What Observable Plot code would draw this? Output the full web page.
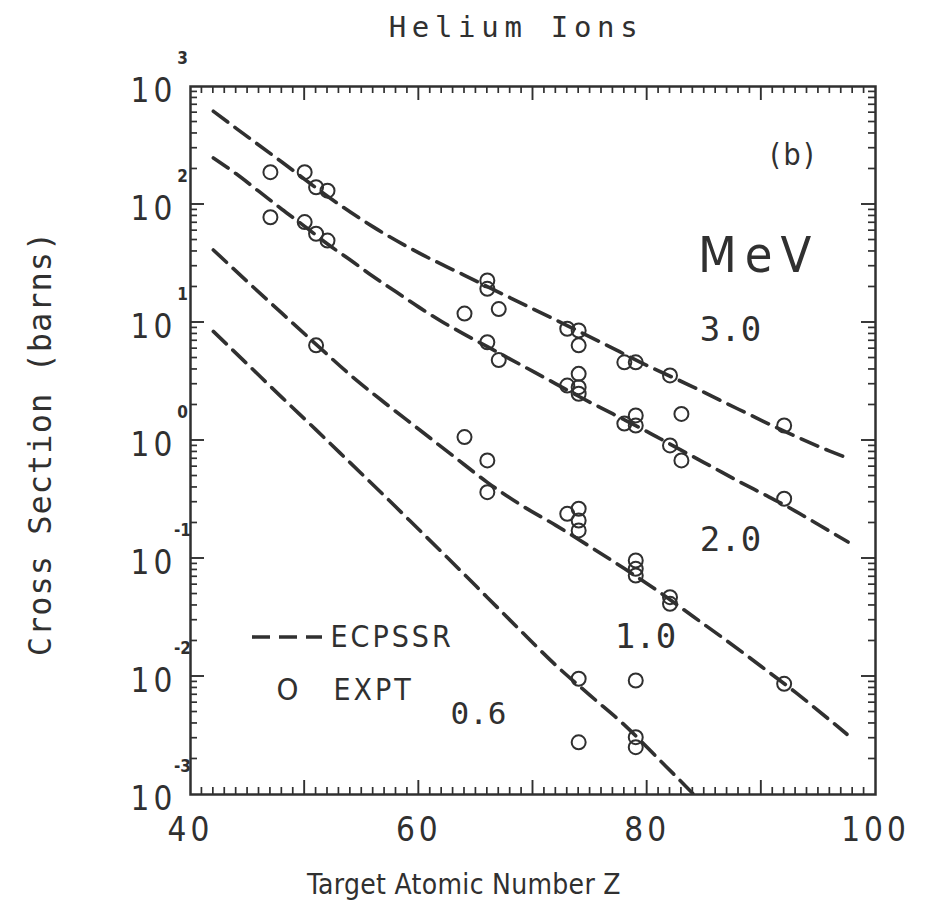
<!DOCTYPE html>
<html>
<head>
<meta charset="utf-8">
<script src="https://cdn.jsdelivr.net/npm/d3@7"></script>
<script src="https://cdn.jsdelivr.net/npm/@observablehq/plot@0.6"></script>
<style>
  html, body { margin: 0; padding: 0; background: #fff; }
</style>
</head>
<body>
<div id="chart"></div>
<script>
// ECPSSR theory curves: target atomic number Z and cross section (barns) per He-ion energy
const energies = ["3.0", "2.0", "1.0", "0.6"];

const theoryZ30 = [42, 44, 48, 52, 56, 60, 64, 68, 72, 76, 80, 84, 88, 92, 96, 97.7];
const theorySigma30 = [617, 442, 229, 117.5, 64.6, 38.9, 25.1, 16.2, 10.5, 6.76, 4.32, 2.85, 1.84, 1.20, 0.813, 0.70];

const theoryZ20 = [42, 44, 46, 48, 50, 52, 54, 56, 58, 60, 62, 64, 66, 68, 70, 72, 74, 76, 78, 80, 82, 84, 86, 88, 90, 92, 94, 96, 97.6];
const theorySigma20 = [248, 182, 129, 91.2, 65.3, 46.2, 33.9, 24.5, 18.2, 13.5, 10.2, 7.94, 6.24, 4.90, 3.85, 3.02, 2.37, 1.88, 1.50, 1.19, 0.933, 0.733, 0.575, 0.452, 0.359, 0.285, 0.221, 0.170, 0.138];

const theoryZ10 = [42, 45, 48, 51, 54, 57, 60, 63, 66, 69, 72, 75, 78, 81, 84, 87, 90, 93, 96, 97.5];
const theorySigma10 = [41.2, 22.1, 12.0, 6.53, 3.59, 2.09, 1.245, 0.741, 0.442, 0.282, 0.191, 0.126, 0.0822, 0.0525, 0.0324, 0.0200, 0.01216, 0.00733, 0.00427, 0.00324];

const theoryZ06 = [42, 45, 48, 51, 54, 57, 60, 63, 66, 69, 72, 75, 78, 81, 84, 85];
const theorySigma06 = [8.41, 4.42, 2.32, 1.23, 0.646, 0.339, 0.176, 0.0912, 0.0468, 0.0240, 0.01245, 0.00692, 0.00389, 0.00200, 0.00102, 0.00081];

// Measured cross sections (EXPT)
const exptZ30 = [47, 50, 51, 52, 66, 66, 67, 73, 74, 74, 78, 79, 82, 92];
const exptSigma30 = [188, 188, 140, 131, 22.7, 19.3, 13.0, 8.85, 8.55, 6.4, 4.6, 4.6, 3.56, 1.34];

const exptZ20 = [47, 50, 51, 52, 64, 66, 67, 73, 74, 74, 74, 78, 79, 79, 83, 82, 83, 92];
const exptSigma20 = [78, 71, 56.5, 49.5, 11.9, 6.8, 4.8, 2.92, 3.67, 2.83, 2.49, 1.39, 1.63, 1.34, 1.68, 0.908, 0.678, 0.321];

const exptZ10 = [51, 64, 66, 66, 73, 74, 74, 74, 79, 79, 79, 82, 82, 92];
const exptSigma10 = [6.4, 1.07, 0.678, 0.365, 0.239, 0.264, 0.210, 0.173, 0.0962, 0.0818, 0.0718, 0.047, 0.0413, 0.00867];

const exptZ06 = [74, 79, 74, 79, 79];
const exptSigma06 = [0.00957, 0.00925, 0.00277, 0.00306, 0.00252];

// Axis tick labels
const xTickLabels = [40, 60, 80, 100];
const yDecadeExponents = [-3, -2, -1, 0, 1, 2, 3];

// Legend entries and panel texts
const legendLabels = ["ECPSSR", "EXPT"];
const legendSymbol = "O";
const panelTag = "(b)";
const unitLabel = "MeV";
const titleText = "Helium Ions";
const xLabelText = "Target Atomic Number Z";
const yLabelText = "Cross Section (barns)";

// ---- build tables for the marks ----
const zipSeries = (energy, zs, ss) => zs.map((z, i) => ({energy, z, sigma: ss[i]}));
const theory = [
  ...zipSeries(energies[0], theoryZ30, theorySigma30),
  ...zipSeries(energies[1], theoryZ20, theorySigma20),
  ...zipSeries(energies[2], theoryZ10, theorySigma10),
  ...zipSeries(energies[3], theoryZ06, theorySigma06)
];
const expt = [
  ...zipSeries(energies[0], exptZ30, exptSigma30),
  ...zipSeries(energies[1], exptZ20, exptSigma20),
  ...zipSeries(energies[2], exptZ10, exptSigma10),
  ...zipSeries(energies[3], exptZ06, exptSigma06)
];

// tick positions: every unit of Z (long every ten), log minor ticks 2..9 per decade
const xMinor = d3.range(41, 100).filter(z => z % 10 !== 0);
const xMajor = d3.range(50, 100, 10);
const yMinor = [];
for (let e = -3; e < 3; e++) for (let k = 2; k <= 9; k++) yMinor.push(k * 10 ** e);
const yMajor = d3.range(-2, 3).map(e => 10 ** e);

// ---- layout & style ----
const W = 926, H = 915;
const mL = 190, mR = 51, mT = 86, mB = 121;
const ink = "#303030";
const font = '"DejaVu Sans Condensed", "DejaVu Sans", sans-serif';
const mono = '"DejaVu Sans Mono", monospace';
const dash = "18,9";

// letter spacing per label text (applied after rendering)
const spacing = new Map([
  [titleText, 5.7], [yLabelText, 1], [xLabelText, 0.3],
  ["10", 4], ["40", 4], ["60", 4], ["80", 4], ["100", 4],
  [unitLabel, 8], [panelTag, 3], [legendLabels[0], 3], [legendLabels[1], 3]
]);

// inward-pointing ticks on all four sides of the frame, placed with the plot's scales
function innerTicks(index, {x, y}, values, dims) {
  const top = dims.marginTop, bottom = dims.height - dims.marginBottom;
  const left = dims.marginLeft, right = dims.width - dims.marginRight;
  const g = d3.create("svg:g").attr("stroke", ink).attr("fill", "none");
  const vTick = (z, len, w) => {
    const px = x(z);
    g.append("line").attr("x1", px).attr("x2", px).attr("y1", bottom).attr("y2", bottom - len).attr("stroke-width", w);
    g.append("line").attr("x1", px).attr("x2", px).attr("y1", top).attr("y2", top + len).attr("stroke-width", w);
  };
  const hTick = (v, len, w) => {
    const py = y(v);
    g.append("line").attr("y1", py).attr("y2", py).attr("x1", left).attr("x2", left + len).attr("stroke-width", w);
    g.append("line").attr("y1", py).attr("y2", py).attr("x1", right).attr("x2", right - len).attr("stroke-width", w);
  };
  xMinor.forEach(z => vTick(z, 7, 1.7));
  xMajor.forEach(z => vTick(z, 14, 1.9));
  yMinor.forEach(v => hTick(v, 7, 1.7));
  yMajor.forEach(v => hTick(v, 14, 1.9));
  return g.node();
}

// legend sample: short dashed segment drawn in frame pixel space
function legendDash(index, scales, values, dims) {
  const g = d3.create("svg:g");
  const x0 = dims.marginLeft + 62, y0 = dims.marginTop + 551;
  g.append("line")
    .attr("x1", x0).attr("x2", x0 + 70)
    .attr("y1", y0).attr("y2", y0)
    .attr("stroke", ink).attr("stroke-width", 3.6)
    .attr("stroke-dasharray", dash);
  return g.node();
}

const note = (txt, dx, dy, size, extra = {}) =>
  Plot.text([txt], {
    frameAnchor: "top-left", dx, dy, text: d => d,
    textAnchor: "middle", lineAnchor: "middle", fontSize: size, fill: ink, ...extra
  });

const chart = Plot.plot({
  width: W,
  height: H,
  marginLeft: mL,
  marginRight: mR,
  marginTop: mT,
  marginBottom: mB,
  style: {fontFamily: font, background: "#fff", color: ink, overflow: "visible"},
  x: {domain: [40, 100], axis: null},
  y: {type: "log", domain: [1e-3, 1e3], axis: null},
  marks: [
    Plot.frame({stroke: ink, strokeWidth: 2.5}),
    innerTicks,

    // ECPSSR curves
    Plot.line(theory, {
      x: "z", y: "sigma", z: "energy", curve: "monotone-x",
      stroke: ink, strokeWidth: 3.6, strokeDasharray: dash, clip: true
    }),
    // measurements
    Plot.dot(expt, {x: "z", y: "sigma", r: 7, stroke: ink, strokeWidth: 2, fill: "none"}),

    // x tick labels
    Plot.text(xTickLabels, {
      x: d => d, frameAnchor: "bottom", dy: 36, text: d => String(d),
      textAnchor: "middle", lineAnchor: "middle", fontSize: 33, fill: ink
    }),
    // y tick labels: "10" with a raised exponent
    Plot.text(yDecadeExponents, {
      y: d => 10 ** d, frameAnchor: "left", dx: -37, dy: 5, text: () => "10",
      textAnchor: "middle", lineAnchor: "middle", fontSize: 33, fill: ink
    }),
    Plot.text(yDecadeExponents, {
      y: d => 10 ** d, frameAnchor: "left", dx: -8, dy: -28, text: d => String(d),
      textAnchor: "middle", lineAnchor: "middle", fontSize: 17, fontWeight: "bold", fill: ink
    }),

    // axis titles and chart title
    Plot.text([xLabelText], {
      frameAnchor: "bottom", dx: -69, dy: 91, text: d => d,
      textAnchor: "middle", lineAnchor: "middle", fontSize: 28, fill: ink
    }),
    Plot.text([yLabelText], {
      frameAnchor: "left", dx: -150, dy: 3, rotate: -90, text: d => d,
      textAnchor: "middle", lineAnchor: "middle", fontFamily: mono, fontSize: 32, fill: ink
    }),
    Plot.text([titleText], {
      frameAnchor: "top", dx: -17, dy: -59, text: d => d,
      textAnchor: "middle", lineAnchor: "middle", fontFamily: mono, fontSize: 29, fill: ink
    }),

    // panel annotations
    note(panelTag, 603, 69, 30),
    note(unitLabel, 568, 169, 50),
    note(energies[0], 540, 244, 34, {fontFamily: mono}),
    note(energies[1], 540, 454, 34, {fontFamily: mono}),
    note(energies[2], 455, 551, 34, {fontFamily: mono}),
    note(energies[3], 288, 628, 31, {fontFamily: mono}),

    // legend
    legendDash,
    note(legendLabels[0], 140, 551, 30, {textAnchor: "start"}),
    note(legendSymbol, 97, 604, 31),
    note(legendLabels[1], 143, 604, 30, {textAnchor: "start"})
  ]
});

// apply letter spacing to the label texts
chart.querySelectorAll("text").forEach(t => {
  const ls = spacing.get(t.textContent);
  if (ls !== undefined) t.setAttribute("letter-spacing", ls);
});

document.getElementById("chart").append(chart);
</script>
</body>
</html>
